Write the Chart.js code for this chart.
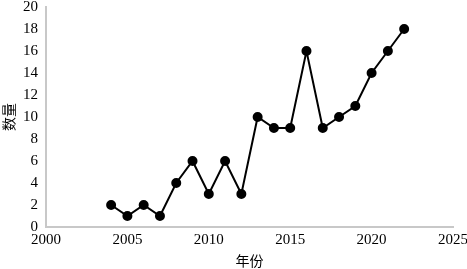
<!DOCTYPE html>
<html>
<head>
<meta charset="utf-8">
<script src="https://cdn.jsdelivr.net/npm/chart.js@4/dist/chart.umd.min.js"></script>
<style>
	html, body { margin: 0; padding: 0; background: #fff; }
	#box { width: 467px; height: 269px; }
</style>
</head>
<body>
<div id="box"><canvas id="grafico"></canvas></div>
<script>
	var anos = [2004, 2005, 2006, 2007, 2008, 2009, 2010, 2011, 2012, 2013, 2014, 2015, 2016, 2017, 2018, 2019, 2020, 2021, 2022];
	var quantidades = [2, 1, 2, 1, 4, 6, 3, 6, 3, 10, 9, 9, 16, 9, 10, 11, 14, 16, 18];
	var xTicks = [2000, 2005, 2010, 2015, 2020, 2025];

	var pontos = anos.map(function (a, i) { return { x: a, y: quantidades[i] }; });
	var serif = '"Liberation Serif", "Times New Roman", serif';
	var cjk = '"Noto Sans CJK SC", sans-serif';

	new Chart(document.getElementById('grafico'), {
		type: 'scatter',
		data: {
			datasets: [{
				data: pontos,
				showLine: true,
				borderColor: '#000',
				backgroundColor: '#000',
				borderWidth: 2,
				pointRadius: 4,
				pointHoverRadius: 4
			}]
		},
		options: {
			responsive: true,
			maintainAspectRatio: false,
			animation: false,
			plugins: { legend: { display: false }, tooltip: { enabled: false } },
			layout: { padding: { top: 7, right: 14, left: 0, bottom: 0 } },
			scales: {
				x: {
					type: 'linear',
					min: 2000,
					max: 2025,
					afterBuildTicks: function (axis) {
						axis.ticks = xTicks.map(function (v) { return { value: v }; });
					},
					afterFit: function (axis) {
						axis.height = 42;
						axis.paddingLeft = 0;
						axis.paddingRight = 0;
					},
					grid: { display: false, drawTicks: false },
					border: { color: '#c8c8c8', width: 2 },
					ticks: {
						color: '#000',
						padding: 4,
						maxRotation: 0,
						font: { family: serif, size: 15 },
						callback: function (v) { return String(v); }
					},
					title: {
						display: true,
						text: '年份',
						color: '#000',
						padding: { top: 0, bottom: 0 },
						font: { family: cjk, size: 14 }
					}
				},
				y: {
					min: 0,
					max: 20,
					afterFit: function (axis) {
						axis.width = 46;
						axis.paddingTop = 0;
						axis.paddingBottom = 0;
					},
					ticks: {
						stepSize: 2,
						autoSkip: false,
						color: '#000',
						padding: 8,
						font: { family: serif, size: 15 }
					},
					grid: { display: false, drawTicks: false },
					border: { color: '#c8c8c8', width: 2 },
					title: {
						display: true,
						text: '数量',
						color: '#000',
						padding: { top: 0, bottom: 2 },
						font: { family: cjk, size: 14 }
					}
				}
			}
		}
	});
</script>
</body>
</html>
